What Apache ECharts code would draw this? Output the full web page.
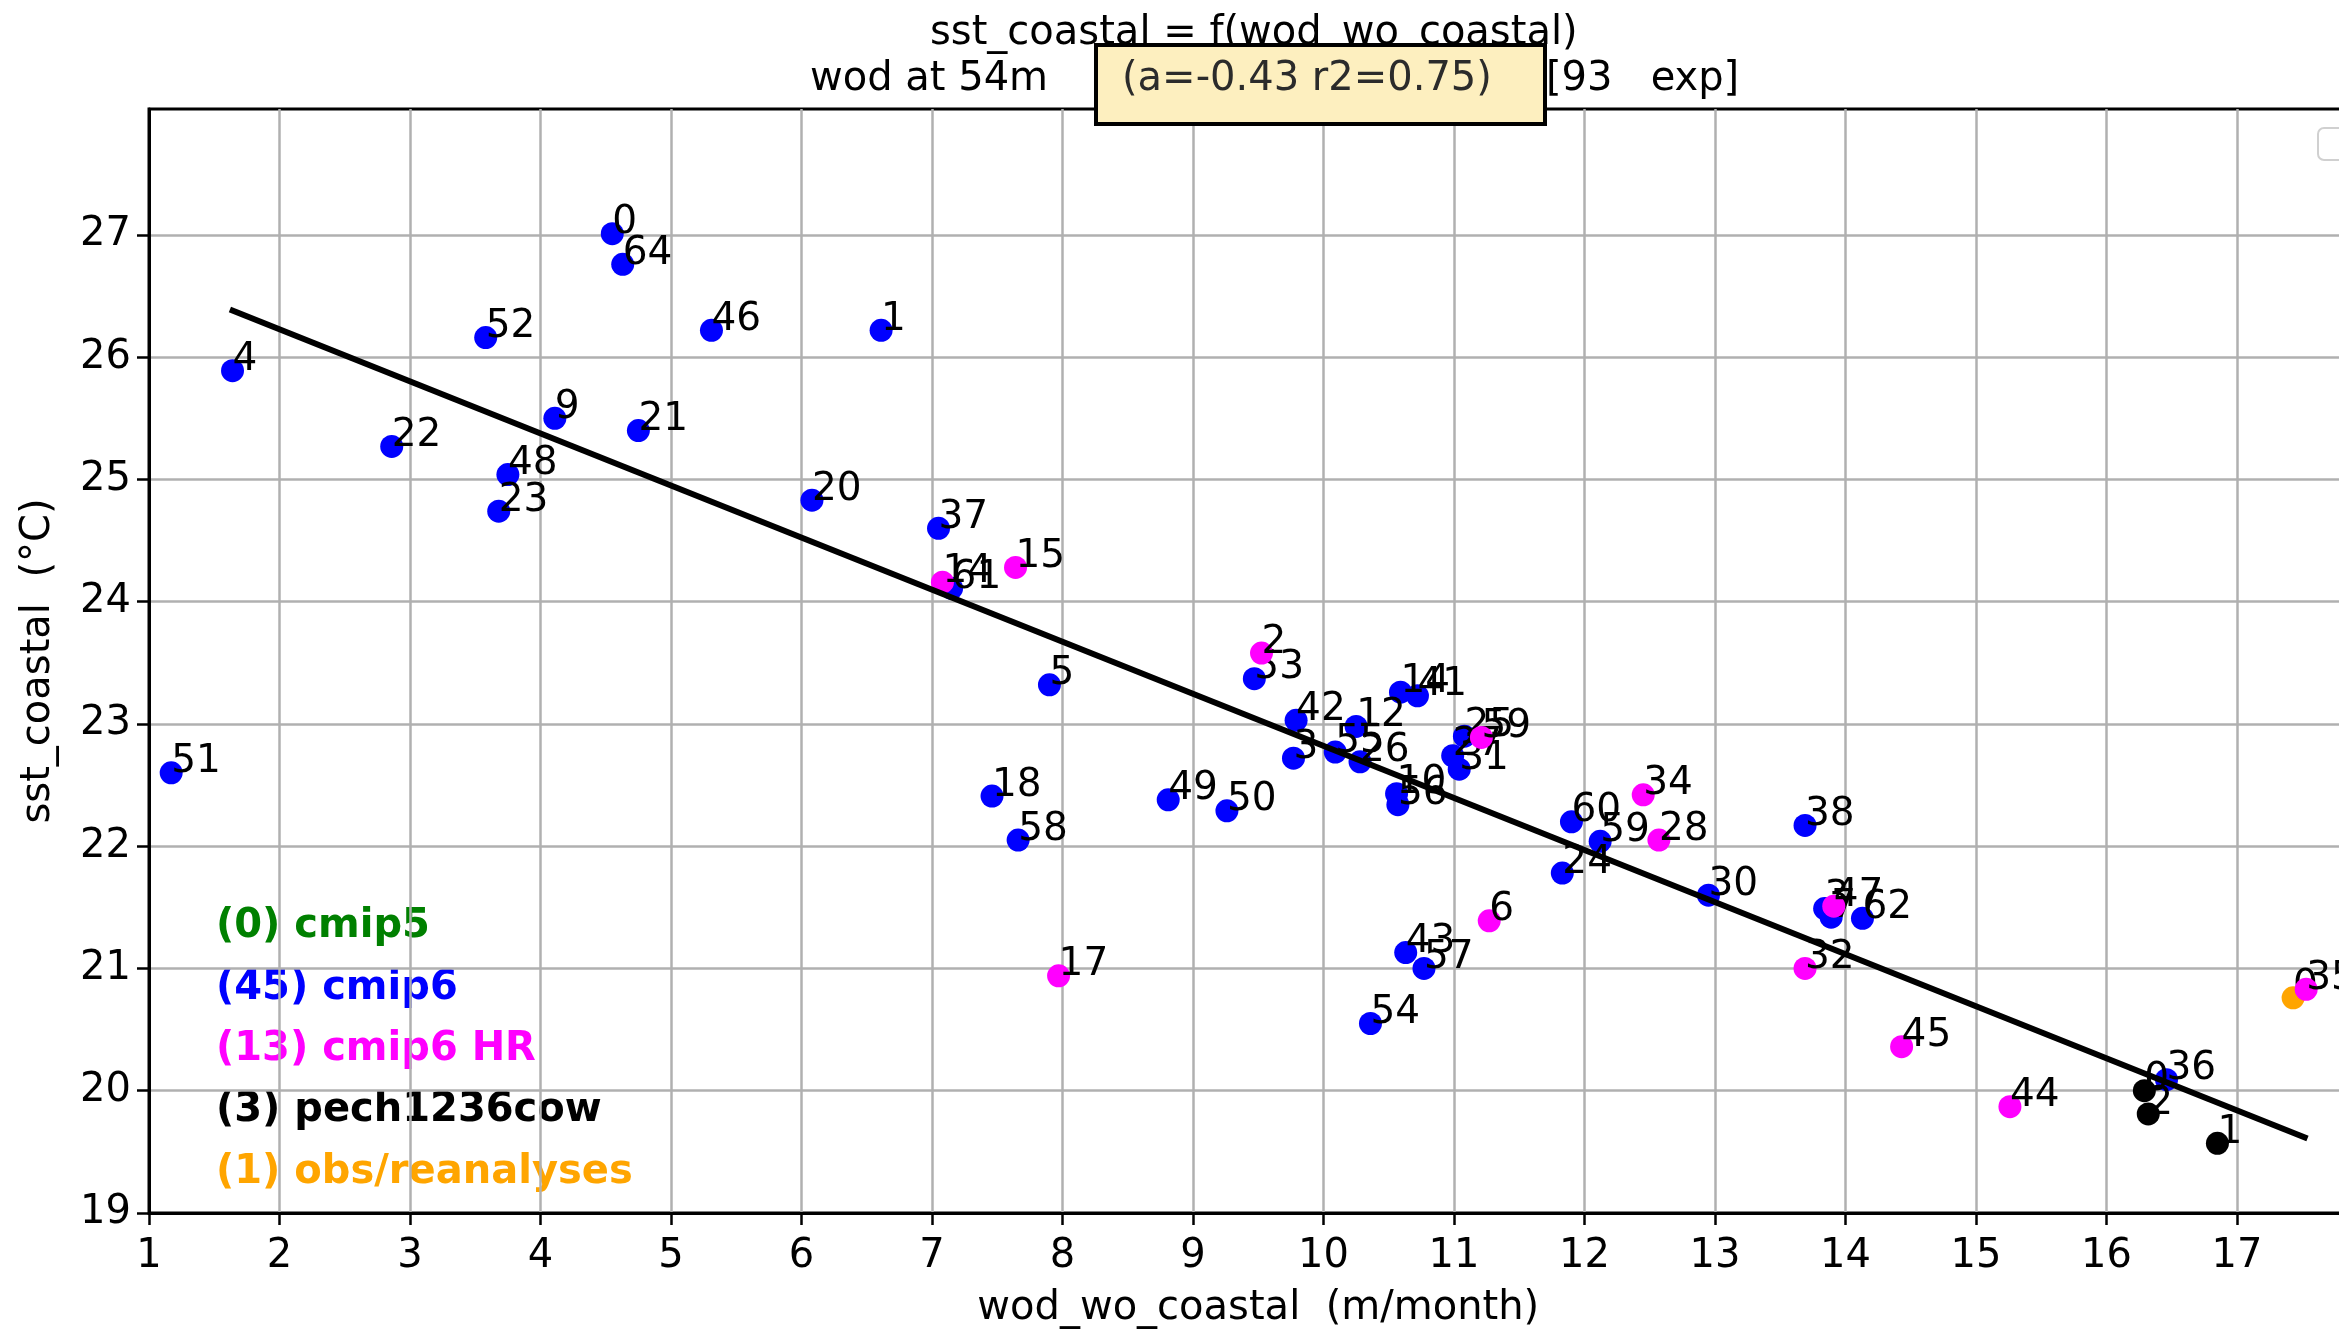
<!DOCTYPE html>
<html>
<head>
<meta charset="utf-8">
<script src="https://cdn.jsdelivr.net/npm/echarts@6/dist/echarts.min.js"></script>
<style>
  html, body { margin: 0; padding: 0; overflow: hidden; background: #fff; }
  #main { width: 2400px; height: 1332px; }
</style>
</head>
<body>
<div id="main"></div>
<script>
// cmip6 (blue)
const cmip6Labels = ['0','64','52','46','1','4','22','9','21','48','23','20','37','61','5','53','42','12','14','41','3','55','26','10','56','25','27','31','18','58','49','50','60','24','59','38','30','3','7','62','36','51','54','43','57'];
const cmip6X = [4.55,4.63,3.58,5.31,6.61,1.64,2.86,4.11,4.75,3.75,3.68,6.08,7.05,7.15,7.90,9.47,9.79,10.25,10.59,10.72,9.77,10.09,10.28,10.56,10.57,11.08,10.99,11.04,7.46,7.66,8.81,9.26,11.90,11.83,12.12,13.69,12.95,13.84,13.89,14.13,16.46,1.17,10.36,10.63,10.77];
const cmip6Y = [27.01,26.76,26.16,26.22,26.22,25.89,25.27,25.50,25.40,25.04,24.74,24.83,24.60,24.11,23.32,23.37,23.03,22.98,23.26,23.23,22.72,22.77,22.69,22.43,22.34,22.90,22.74,22.63,22.41,22.05,22.38,22.29,22.20,21.78,22.04,22.17,21.60,21.49,21.42,21.41,20.09,22.60,20.55,21.13,21.00];

// cmip6 HR (magenta)
const hrLabels = ['14','15','2','59','34','28','6','17','47','32','45','44','35'];
const hrX = [7.08,7.64,9.525,11.21,12.45,12.57,11.27,7.97,13.91,13.69,14.43,15.26,17.53];
const hrY = [24.16,24.28,23.58,22.89,22.42,22.05,21.39,20.94,21.51,21.00,20.36,19.87,20.83];

// pech1236cow (black)
const pechLabels = ['0','2','1'];
const pechX = [16.29,16.32,16.85];
const pechY = [20.00,19.81,19.57];

// obs/reanalyses (orange)
const obsLabels = ['0'];
const obsX = [17.43];
const obsY = [20.76];

// regression line end points
const fitX = [1.62, 17.54];
const fitY = [26.39, 19.61];

// y ticks (axis top sits just above 28 but matplotlib shows no 28 tick)
const yTicks = [19, 20, 21, 22, 23, 24, 25, 26, 27];

const legendTexts = ['(0) cmip5', '(45) cmip6', '(13) cmip6 HR', '(3) pech1236cow', '(1) obs/reanalyses'];
const legendColors = ['#008000', '#0000ff', '#ff00ff', '#000000', '#ffa500'];

const FONT = 'DejaVu Sans';

function pts(xs, ys, labs) {
    return xs.map((x, i) => [x, ys[i], labs[i]]);
}

function scatterSeries(name, color, data, z) {
    return {
        name: name,
        type: 'scatter',
        data: data,
        symbolSize: 23,
        z: z,
        itemStyle: {color: color, opacity: 1},
        label: {
            show: true,
            formatter: p => p.data[2],
            position: ['50%', '50%'],
            offset: [0, 9],
            align: 'left',
            verticalAlign: 'bottom',
            fontSize: 39,
            fontFamily: FONT,
            color: '#000'
        },
        emphasis: {disabled: true}
    };
}

const legendGraphics = legendTexts.map((t, i) => ({
    type: 'text',
    left: 216,
    top: 931 + i * 61.3 - 24,
    style: {text: t, fill: legendColors[i], font: 'bold 40px "DejaVu Sans"'}
}));

const option = {
    animation: false,
    backgroundColor: '#fff',
    grid: {
        left: 149, top: 109, width: 2218.5, height: 1104,
        containLabel: false, outerBoundsMode: 'none',
        show: true, borderColor: '#000', borderWidth: 3, backgroundColor: 'transparent'
    },
    xAxis: {
        type: 'value', min: 1, max: 18, interval: 1,
        name: 'wod_wo_coastal  (m/month)',
        nameLocation: 'middle', nameGap: 76,
        nameTextStyle: {fontSize: 40, fontFamily: FONT, color: '#000'},
        axisLine: {show: true, lineStyle: {color: '#000', width: 3}},
        axisTick: {show: true, length: 12, lineStyle: {color: '#000', width: 2.5}},
        axisLabel: {fontSize: 40, fontFamily: FONT, color: '#000', margin: 24},
        splitLine: {show: true, lineStyle: {color: '#b0b0b0', width: 2.5}}
    },
    yAxis: {
        type: 'value', min: 19, max: 28.03,
        name: 'sst_coastal  (°C)',
        nameLocation: 'middle', nameGap: 90,
        nameTextStyle: {fontSize: 40, fontFamily: FONT, color: '#000'},
        axisLine: {show: true, lineStyle: {color: '#000', width: 3}},
        axisTick: {show: true, length: 12, customValues: yTicks, lineStyle: {color: '#000', width: 2.5}},
        axisLabel: {fontSize: 40, fontFamily: FONT, color: '#000', margin: 18, customValues: yTicks},
        splitLine: {show: true, lineStyle: {color: '#b0b0b0', width: 2.5}}
    },
    series: [
        scatterSeries('cmip6', '#0000ff', pts(cmip6X, cmip6Y, cmip6Labels), 2),
        scatterSeries('obs/reanalyses', '#ffa500', pts(obsX, obsY, obsLabels), 3),
        scatterSeries('cmip6 HR', '#ff00ff', pts(hrX, hrY, hrLabels), 4),
        scatterSeries('pech1236cow', '#000000', pts(pechX, pechY, pechLabels), 5),
        {
            type: 'line',
            data: fitX.map((x, i) => [x, fitY[i]]),
            showSymbol: false,
            z: 6,
            lineStyle: {color: '#000', width: 6},
            emphasis: {disabled: true}
        }
    ],
    graphic: [
        {
            type: 'text', left: 1252 - 322, top: 14,
            style: {text: 'sst_coastal = f(wod_wo_coastal)', fill: '#000', font: '40px "DejaVu Sans"'}
        },
        {
            type: 'text', left: 810, top: 60,
            style: {text: 'wod at 54m', fill: '#000', font: '40px "DejaVu Sans"'}
        },
        {
            type: 'rect', z: 100,
            shape: {x: 1096, y: 45, width: 449, height: 79},
            style: {fill: '#fdefbf', stroke: '#000', lineWidth: 4}
        },
        {
            type: 'text', left: 1122, top: 60, z: 101,
            style: {text: '(a=-0.43 r2=0.75)', fill: '#2b2b2b', font: '40px "DejaVu Sans"'}
        },
        {
            type: 'text', left: 1546, top: 60,
            style: {text: '[93   exp]', fill: '#000', font: '40px "DejaVu Sans"'}
        },
        {
            type: 'rect', z: 50,
            shape: {x: 2318, y: 128, width: 60, height: 32, r: 6},
            style: {fill: '#fff', stroke: '#d0d0d0', lineWidth: 2}
        }
    ].concat(legendGraphics)
};

const chart = echarts.init(document.getElementById('main'));
chart.setOption(option);
</script>
</body>
</html>
